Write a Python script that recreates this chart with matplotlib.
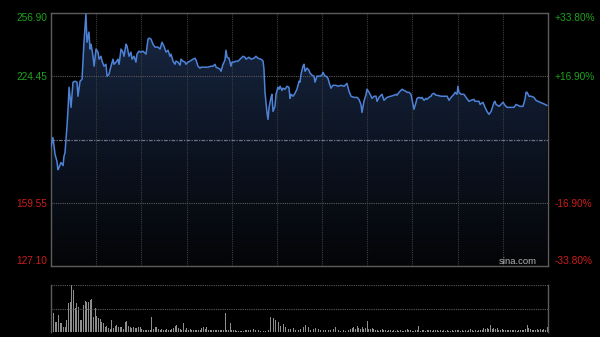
import numpy as np
import matplotlib
matplotlib.use("Agg")
import matplotlib.pyplot as plt
from matplotlib.colors import LinearSegmentedColormap

plt.rcParams['font.family'] = ['Liberation Sans', 'DejaVu Sans']

# ---------------------------------------------------------------------------
# Data
# ---------------------------------------------------------------------------
prev_close = 192.00
price_low, price_high = 127.10, 256.90
session_minutes = 330

minutes = [0, 1.3, 2.7, 4.0, 4.6, 5.3, 6.6, 8.0, 8.6, 9.3,
           10.6, 11.3, 12.0, 13.3, 14.6, 15.9, 17.3, 17.9, 19.3, 20.6,
           21.2, 21.9, 23.2, 23.9, 25.2, 25.9, 26.6, 27.9, 28.6, 29.9,
           31.2, 31.9, 33.2, 33.9, 35.2, 36.5, 37.2, 38.5, 39.8, 41.2,
           41.8, 43.2, 44.5, 45.2, 46.5, 47.8, 48.5, 49.8, 50.5, 51.8,
           53.1, 53.8, 55.1, 56.4, 57.1, 58.4, 59.8, 61.1, 61.8, 63.1,
           64.4, 65.1, 66.4, 67.7, 69.1, 71.0, 72.4, 73.7, 75.0, 76.4,
           77.7, 79.0, 79.7, 81.0, 82.3, 83.0, 84.3, 85.7, 86.3, 87.6,
           89.0, 89.6, 91.0, 92.3, 94.3, 95.6, 96.3, 97.6, 98.9, 99.6,
           102.3, 104.2, 106.2, 107.6, 108.9, 109.6, 110.9, 112.2, 112.9, 114.2,
           115.5, 116.2, 116.9, 118.2, 119.5, 120.2, 121.5, 122.8, 124.2, 126.2,
           127.5, 128.8, 129.5, 131.5, 132.8, 134.8, 136.1, 137.4, 139.4, 140.8,
           141.4, 142.1, 143.4, 144.1, 144.8, 146.1, 146.7, 147.4, 148.7, 149.4,
           150.7, 151.4, 152.1, 153.4, 154.0, 155.4, 156.7, 158.0, 158.7, 159.4,
           160.7, 162.0, 163.3, 164.7, 165.3, 166.0, 167.3, 168.0, 168.7, 170.0,
           171.3, 172.0, 173.3, 174.6, 175.3, 176.6, 178.6, 179.9, 180.6, 181.9,
           182.6, 183.9, 184.6, 185.9, 187.2, 189.2, 190.6, 192.6, 194.6, 195.9,
           196.5, 197.9, 199.2, 201.2, 203.2, 204.5, 205.8, 206.5, 207.8, 209.2,
           209.8, 211.2, 212.5, 213.1, 214.5, 215.8, 216.5, 217.8, 219.1, 219.8,
           221.1, 222.4, 223.1, 225.8, 227.8, 229.1, 229.7, 231.1, 232.4, 233.1,
           234.4, 235.7, 236.4, 237.7, 239.0, 239.7, 241.0, 242.4, 243.0, 244.4,
           245.7, 246.3, 247.7, 249.0, 249.7, 251.0, 252.3, 253.0, 254.3, 255.6,
           256.3, 259.0, 261.6, 263.0, 264.3, 265.6, 267.6, 268.3, 269.6, 270.2,
           270.9, 272.2, 274.2, 275.6, 277.5, 278.9, 280.9, 281.5, 284.2, 284.9,
           286.8, 288.2, 289.5, 290.8, 292.2, 294.2, 294.8, 295.5, 297.5, 298.8,
           300.1, 301.5, 302.8, 304.8, 307.4, 308.8, 310.1, 311.4, 313.4, 314.7,
           315.4, 316.1, 317.4, 318.7, 320.7, 322.0, 323.4, 324.7, 326.7, 328.0,
           329.3]

prices = [188.4, 193.0, 184.3, 180.7, 176.5, 177.6, 180.2, 178.6, 183.3, 185.3,
          198.7, 207.5, 218.8, 208.5, 221.4, 221.9, 221.4, 214.2, 221.9, 222.9,
          231.7, 241.9, 256.4, 241.9, 247.1, 238.4, 240.9, 234.7, 229.6, 238.4,
          236.8, 233.2, 234.7, 232.2, 229.6, 230.6, 224.5, 225.5, 229.6, 233.2,
          230.6, 231.7, 233.2, 230.6, 238.4, 236.8, 234.7, 240.9, 239.9, 234.7,
          236.8, 233.2, 234.7, 231.7, 235.8, 237.3, 236.8, 237.3, 236.8, 235.8,
          243.5, 244.0, 243.5, 240.9, 239.4, 239.4, 238.4, 241.9, 239.9, 236.8,
          237.8, 234.7, 235.8, 232.2, 230.6, 232.2, 231.7, 230.1, 233.2, 232.2,
          231.7, 230.6, 231.7, 232.2, 233.2, 233.7, 232.7, 229.6, 228.6, 229.1,
          229.1, 229.1, 229.6, 229.6, 230.6, 229.1, 228.6, 228.1, 227.0, 230.6,
          232.7, 237.8, 234.2, 233.7, 229.6, 231.7, 231.7, 232.2, 232.2, 233.7,
          234.7, 234.2, 233.2, 234.2, 233.2, 233.7, 234.7, 233.7, 233.2, 232.2,
          228.1, 216.2, 205.9, 202.3, 208.5, 213.6, 215.2, 206.4, 209.0, 215.2,
          218.8, 217.8, 219.3, 217.2, 218.3, 217.8, 219.3, 218.8, 213.1, 215.2,
          214.2, 215.7, 217.8, 221.9, 221.4, 225.5, 229.6, 230.6, 227.0, 228.6,
          227.5, 226.0, 225.0, 224.5, 221.4, 224.5, 224.5, 225.0, 226.5, 224.5,
          224.5, 223.4, 221.4, 218.3, 219.8, 219.8, 219.3, 219.8, 219.3, 220.3,
          220.8, 216.7, 214.2, 213.6, 213.6, 212.6, 210.0, 205.9, 211.6, 215.2,
          217.8, 216.2, 214.2, 213.1, 214.2, 214.2, 211.6, 213.6, 214.7, 215.2,
          212.1, 213.1, 213.6, 214.2, 214.7, 215.2, 214.7, 216.2, 217.2, 217.8,
          217.2, 216.7, 216.2, 216.2, 215.2, 212.6, 207.5, 211.1, 213.1, 213.6,
          213.1, 213.6, 212.1, 213.1, 212.6, 213.6, 214.2, 215.2, 215.7, 214.7,
          214.7, 214.2, 214.2, 214.2, 212.1, 213.6, 215.2, 216.2, 215.2, 219.3,
          216.2, 215.2, 215.2, 213.6, 211.6, 212.1, 212.6, 211.6, 211.6, 210.0,
          211.1, 208.5, 206.4, 204.9, 206.4, 211.1, 211.6, 210.0, 209.0, 210.0,
          211.1, 209.5, 208.5, 208.5, 208.5, 210.0, 209.5, 209.0, 209.0, 212.6,
          216.2, 216.2, 214.2, 214.2, 213.6, 212.1, 211.6, 211.1, 210.5, 210.0,
          209.5]

# volume bars, left to right across the session (arbitrary units)
volumes = [14, 19, 10, 10, 17, 9, 9, 5, 5, 12, 29, 30, 47, 42, 24, 29, 25, 12, 12, 27,
           31, 30, 30, 32, 33, 15, 24, 16, 14, 13, 10, 9, 5, 6, 4, 3, 12, 4, 6, 7,
           5, 5, 5, 3, 10, 11, 6, 5, 4, 5, 4, 4, 5, 5, 3, 2, 2, 2, 2, 2,
           15, 3, 5, 5, 3, 2, 3, 2, 2, 3, 2, 2, 3, 4, 6, 7, 4, 3, 2, 9,
           2, 4, 2, 3, 2, 2, 2, 2, 2, 2, 4, 5, 3, 5, 2, 2, 2, 2, 2, 2,
           2, 2, 2, 2, 19, 2, 2, 9, 2, 2, 2, 1, 1, 1, 1, 1, 2, 2, 2, 2,
           1, 3, 2, 2, 2, 1, 1, 1, 1, 2, 2, 15, 17, 14, 12, 9, 10, 6, 8, 8,
           5, 4, 3, 3, 5, 4, 2, 2, 2, 3, 2,
           5, 7, 8, 5, 2, 2, 3, 4, 2, 3, 2, 2, 2, 2, 4, 2, 2, 2, 3, 5,
           2, 2, 1, 2, 2, 1, 2, 2, 3, 4, 5, 3, 6, 4, 3, 5, 3, 4, 11, 3,
           3, 4, 3, 2, 2, 1, 2, 3, 2, 2, 1, 2, 2, 1, 2, 1, 2, 1, 2, 1,
           1, 2, 3, 2, 2, 1, 1, 2, 2, 6, 1, 2, 2, 1, 2, 2, 2, 1, 2, 2,
           2, 1, 2, 1, 2, 1, 2, 1, 1, 2, 1, 2, 2, 2, 1, 2, 1, 2, 1, 2,
           3, 2, 1, 2, 1, 2, 2, 2, 4, 3, 4, 3, 7, 3, 4, 3, 4, 2, 2, 3,
           2, 2, 2, 2, 2, 2, 2, 2, 1, 2, 2, 2, 2, 3, 7, 4, 3, 2, 2, 2,
           3, 2, 3, 2, 3, 2, 5]

price_ticks = [price_low, 159.55, 224.45, price_high]

# ---------------------------------------------------------------------------
# Figure
# ---------------------------------------------------------------------------
bg = '#000000'
border = '#5c5c5c'
green = '#1ca31c'
red = '#cc1c1c'

fig = plt.figure(figsize=(6.0, 3.37), dpi=100, facecolor=bg)
ax = fig.add_axes([51 / 600, 71 / 337, 497 / 600, 253 / 337], facecolor=bg)
axv = fig.add_axes([51 / 600, 5 / 337, 497 / 600, 47 / 337], facecolor=bg)

ax.set_xlim(0, session_minutes)
ax.set_ylim(price_low, price_high)

# gradient area under the price line
area = ax.fill_between(minutes, prices, price_low, color='none', lw=0)
grad = np.linspace(1, 0, 256).reshape(-1, 1)
cmap = LinearSegmentedColormap.from_list('area', ['#040507', '#0d1524', '#182844'])
im = ax.imshow(grad, extent=[0, session_minutes, price_low, price_high],
               aspect='auto', cmap=cmap, origin='upper', zorder=1)
im.set_clip_path(area.get_paths()[0], transform=ax.transData)

# grid
for m in range(30, session_minutes, 30):
    ax.axvline(m, color='#3e3e3e', lw=0.8, ls=(0, (1, 1)), zorder=2)
for p in price_ticks[1:3]:
    ax.axhline(p, color='#5a5a5a', lw=0.8, ls=(0, (1, 1)), zorder=2)
ax.axhline(prev_close, color='#6c7384', lw=0.9, ls=(0, (3, 1, 1, 1)), zorder=2)

ax.plot(minutes, prices, color='#4d82d6', lw=1.1, zorder=3)

for s in ax.spines.values():
    s.set_color(border)
    s.set_linewidth(1)

# left price labels
ax.set_xticks([])
ax.set_yticks(price_ticks)
ax.set_yticklabels([f'{p:.2f}' for p in price_ticks])
ax.tick_params(axis='y', length=0, pad=3, labelsize=7.3)
for lab, p in zip(ax.get_yticklabels(), price_ticks):
    lab.set_color(green if p > prev_close else red)
ax.get_yticklabels()[0].set_verticalalignment('bottom')
ax.get_yticklabels()[-1].set_verticalalignment('top')

# right percent labels
axr = ax.twinx()
axr.set_ylim(price_low, price_high)
axr.set_yticks(price_ticks)
pct = [(p - prev_close) / prev_close * 100 for p in price_ticks]
axr.set_yticklabels([f'{v:+.2f}%' for v in pct])
axr.tick_params(axis='y', length=0, pad=5, labelsize=7.3)
for lab, v in zip(axr.get_yticklabels(), pct):
    lab.set_color(green if v > 0 else red)
axr.get_yticklabels()[0].set_verticalalignment('bottom')
axr.get_yticklabels()[-1].set_verticalalignment('top')
for s in axr.spines.values():
    s.set_visible(False)

ax.text(0.978, 0.016, 'sina.com', transform=ax.transAxes, ha='right', va='center',
        color='#b4b4b4', fontsize=6.8, zorder=4)

# volume panel
vol_x = np.linspace(0.5, session_minutes - 0.5, len(volumes))
axv.bar(vol_x, volumes, width=0.6, color='#8e8e8e', lw=0)
axv.set_xlim(0, session_minutes)
axv.set_ylim(0, 47)
axv.axhline(47, color='#5a5a5a', lw=0.8, ls=(0, (1, 1)))
axv.axhline(23.5, color='#5a5a5a', lw=0.8, ls=(0, (1, 1)))
axv.set_xticks([])
axv.set_yticks([])
for side in ['left', 'right']:
    axv.spines[side].set_color(border)
    axv.spines[side].set_linewidth(1)
axv.spines['top'].set_visible(False)
axv.spines['bottom'].set_visible(False)

fig.savefig('out.png', dpi=100, facecolor=bg)
